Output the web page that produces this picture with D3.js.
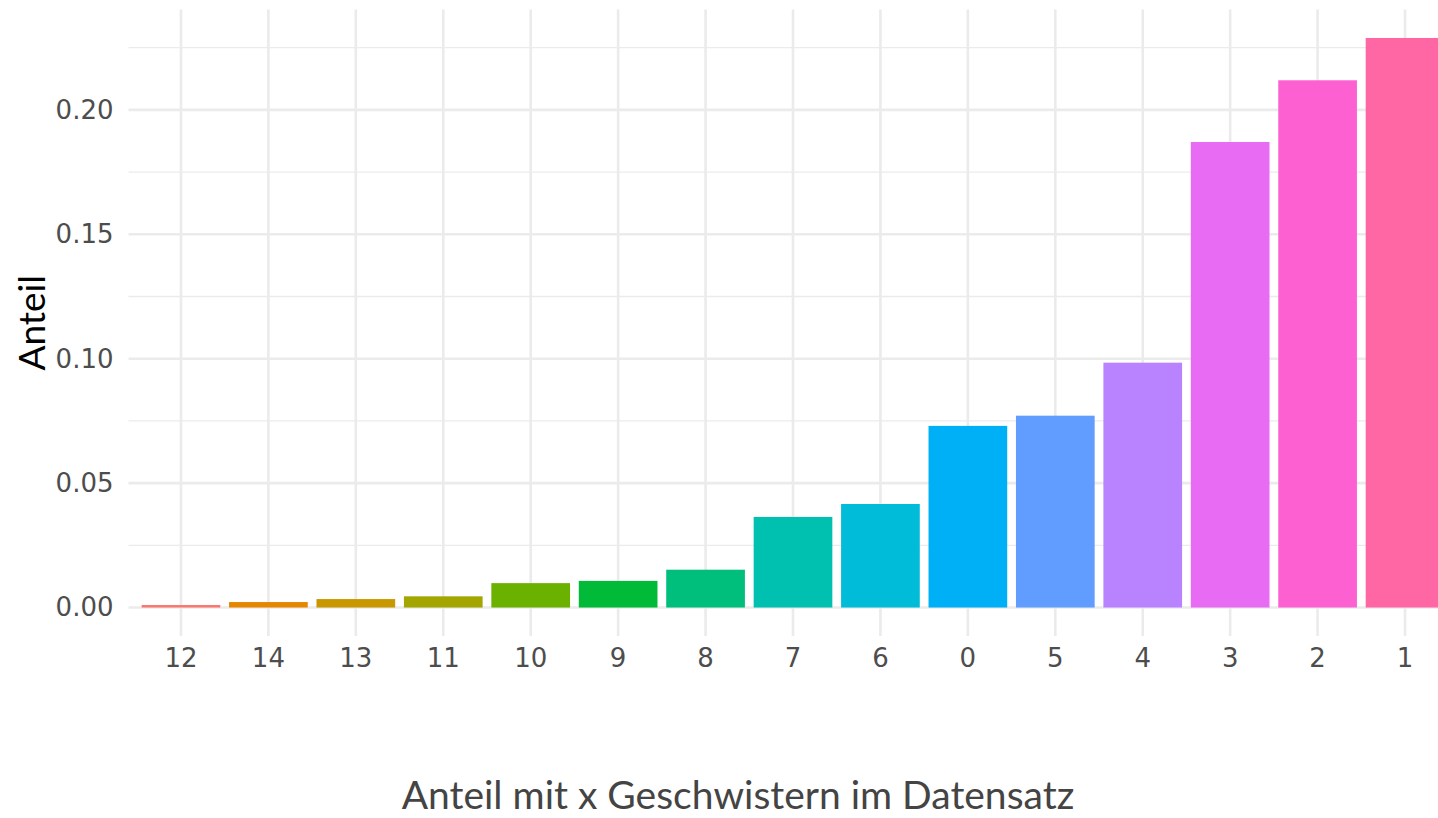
<!DOCTYPE html>
<html>
<head>
<meta charset="utf-8">
<script src="https://cdn.jsdelivr.net/npm/d3@7"></script>
<style>
  html, body { margin: 0; padding: 0; background: #fff; overflow: hidden; }
</style>
</head>
<body>
<svg id="chart" width="1438" height="818"></svg>
<script>
// Data
const categories = ["12", "14", "13", "11", "10", "9", "8", "7", "6", "0", "5", "4", "3", "2", "1"];
const values = [0.0010, 0.0022, 0.0034, 0.0045, 0.0098, 0.0107, 0.0152, 0.0364, 0.0416, 0.0730, 0.0771, 0.0984, 0.1871, 0.2119, 0.2289];
const colors = ["#F8766D", "#E58700", "#C99800", "#A3A500", "#6BB100", "#00BA38", "#00BF7D", "#00C0AF", "#00BCD8", "#00B0F6", "#619CFF", "#B983FF", "#E76BF3", "#FD61D1", "#FF67A4"];
const yMajorTicks = [0.00, 0.05, 0.10, 0.15, 0.20];
const yMinorTicks = [0.025, 0.075, 0.125, 0.175, 0.225];
const xTitle = "Anteil mit x Geschwistern im Datensatz";
const yTitle = "Anteil";

const svg = d3.select("#chart");
const panel = { left: 128.5, right: 1457.5, top: 9.5, bottom: 636 };

const maxV = d3.max(values);
const pad = maxV * 0.05;
const y = d3.scaleLinear().domain([-pad, maxV + pad]).range([panel.bottom, panel.top]);
const x = d3.scaleBand().domain(categories).range([panel.left, panel.right])
  .paddingInner(0.1).paddingOuter(0.15);

const grid = svg.append("g");
// minor horizontal
grid.selectAll("line.minor").data(yMinorTicks).join("line")
  .attr("x1", panel.left).attr("x2", panel.right)
  .attr("y1", d => y(d)).attr("y2", d => y(d))
  .attr("stroke", "#EBEBEB").attr("stroke-width", 1.3);
// major horizontal
grid.selectAll("line.major").data(yMajorTicks).join("line")
  .attr("x1", panel.left).attr("x2", panel.right)
  .attr("y1", d => y(d)).attr("y2", d => y(d))
  .attr("stroke", "#EBEBEB").attr("stroke-width", 2.6);
// vertical
grid.selectAll("line.vert").data(categories).join("line")
  .attr("x1", d => x(d) + x.bandwidth() / 2).attr("x2", d => x(d) + x.bandwidth() / 2)
  .attr("y1", panel.top).attr("y2", panel.bottom)
  .attr("stroke", "#EBEBEB").attr("stroke-width", 2.6);

// bars
svg.append("g").selectAll("rect").data(categories).join("rect")
  .attr("x", d => x(d))
  .attr("width", x.bandwidth())
  .attr("y", (d, i) => y(values[i]))
  .attr("height", (d, i) => y(0) - y(values[i]))
  .attr("fill", (d, i) => colors[i]);

// y axis
const yAxis = d3.axisLeft(y).tickValues(yMajorTicks).tickFormat(d3.format(".2f")).tickSize(0).tickPadding(15);
const ya = svg.append("g").attr("transform", `translate(${panel.left},0)`).call(yAxis);
ya.select(".domain").remove();
ya.selectAll("text").attr("fill", "#4D4D4D").style("font-family", "DejaVu Sans").style("font-size", "26px");

// x axis
const xAxis = d3.axisBottom(x).tickSize(0).tickPadding(13);
const xa = svg.append("g").attr("transform", `translate(0,${panel.bottom})`).call(xAxis);
xa.select(".domain").remove();
xa.selectAll("text").attr("fill", "#4D4D4D").style("font-family", "DejaVu Sans").style("font-size", "26px");

// titles
svg.append("text")
  .attr("x", (panel.left + 1457.5) / 2 - 55).attr("y", 809)
  .attr("text-anchor", "middle")
  .attr("fill", "#444444")
  .style("font-family", "Lato").style("font-size", "39px")
  .text(xTitle);

svg.append("text")
  .attr("transform", `translate(45,${(panel.top + panel.bottom) / 2}) rotate(-90)`)
  .attr("text-anchor", "middle")
  .attr("fill", "#000000")
  .style("font-family", "Lato").style("font-size", "37px")
  .text(yTitle);
</script>
</body>
</html>
